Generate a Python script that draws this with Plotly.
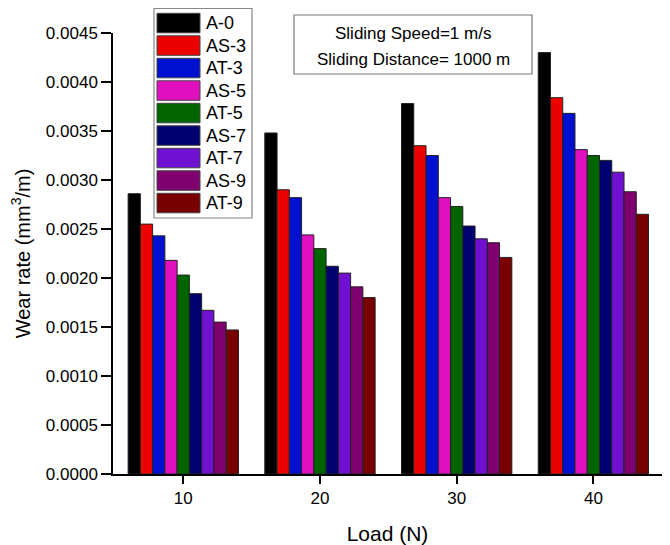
import plotly.graph_objects as go

# ---------------- data ----------------
loads = ["10", "20", "30", "40"]
series_names = ["A-0", "AS-3", "AT-3", "AS-5", "AT-5", "AS-7", "AT-7", "AS-9", "AT-9"]
A0  = [0.00286, 0.00348, 0.00378, 0.00430]
AS3 = [0.00255, 0.00290, 0.00335, 0.00384]
AT3 = [0.00243, 0.00282, 0.00325, 0.00368]
AS5 = [0.00218, 0.00244, 0.00282, 0.00331]
AT5 = [0.00203, 0.00230, 0.00273, 0.00325]
AS7 = [0.00184, 0.00212, 0.00253, 0.00320]
AT7 = [0.00167, 0.00205, 0.00240, 0.00308]
AS9 = [0.00155, 0.00191, 0.00236, 0.00288]
AT9 = [0.00147, 0.00180, 0.00221, 0.00265]
series_values = [A0, AS3, AT3, AS5, AT5, AS7, AT7, AS9, AT9]
colors = ["#000000", "#EE0000", "#0010D0", "#E010C0", "#006400",
          "#000070", "#7010D0", "#800070", "#780000"]
note_lines = ["Sliding Speed=1 m/s", "Sliding Distance= 1000 m"]

# ---------------- layout geometry ----------------
W, H = 670, 545
L, R, T, B = 113, 8, 33, 71
PW, PH = W - L - R, H - T - B

def px(x):
    return (x - L) / PW

def py(y):
    return (H - B - y) / PH

FONT = "Liberation Sans, Arial, sans-serif"

fig = go.Figure()
for name, vals, col in zip(series_names, series_values, colors):
    fig.add_trace(go.Bar(
        x=loads, y=vals, name=name,
        marker=dict(color=col, line=dict(color="#222222", width=1)),
        showlegend=False,
    ))

shapes = []
annotations = []

# custom legend (large rectangular swatches as in the original)
shapes.append(dict(type="rect", xref="paper", yref="paper",
                   x0=px(154), x1=px(252), y0=py(218), y1=py(8.5),
                   line=dict(color="#888888", width=1.2), fillcolor="white", layer="above"))
for i, (name, col) in enumerate(zip(series_names, colors)):
    top = 13.3 + 22.5 * i
    shapes.append(dict(type="rect", xref="paper", yref="paper",
                       x0=px(157), x1=px(200), y0=py(top + 19.5), y1=py(top),
                       line=dict(color="#444444", width=1), fillcolor=col, layer="above"))
    annotations.append(dict(xref="paper", yref="paper", x=px(204), y=py(top + 10),
                            text=name, showarrow=False, xanchor="left", yanchor="middle",
                            font=dict(family=FONT, size=18, color="black")))

# note box
shapes.append(dict(type="rect", xref="paper", yref="paper",
                   x0=px(294), x1=px(532), y0=py(74), y1=py(15),
                   line=dict(color="#777777", width=1.2), fillcolor="white", layer="above"))
for j, line in enumerate(note_lines):
    annotations.append(dict(xref="paper", yref="paper", x=px(413), y=py(33.5 + 26.5 * j),
                            text=line, showarrow=False, xanchor="center", yanchor="middle",
                            font=dict(family=FONT, size=17, color="black")))

fig.update_layout(
    width=W, height=H,
    margin=dict(l=L, r=R, t=T, b=B, autoexpand=False),
    paper_bgcolor="white", plot_bgcolor="white",
    barmode="group", bargap=0.193, bargroupgap=0,
    font=dict(family=FONT, color="black"),
    shapes=shapes, annotations=annotations,
    xaxis=dict(
        type="category", range=[-0.514, 3.502],
        showline=True, linecolor="black", linewidth=1.5,
        ticks="outside", ticklen=8, tickwidth=1.5, tickcolor="black",
        tickfont=dict(family=FONT, size=17, color="black"),
        showgrid=False, zeroline=False,
        title=dict(text="Load (N)", font=dict(family=FONT, size=21, color="black"), standoff=19),
    ),
    yaxis=dict(
        range=[0, 0.0045], dtick=0.0005, tick0=0, tickformat=".4f",
        showline=True, linecolor="black", linewidth=1.5,
        ticks="outside", ticklen=10, tickwidth=1.5, tickcolor="black",
        tickfont=dict(family=FONT, size=17, color="black"),
        showgrid=False, zeroline=False,
        title=dict(text="Wear rate (mm<sup>3</sup>/m)", font=dict(family=FONT, size=20, color="black"), standoff=10),
    ),
)

fig.write_html("out.html", config={"displayModeBar": False},
               post_script="document.body.style.margin='0';document.body.style.overflow='hidden';")
